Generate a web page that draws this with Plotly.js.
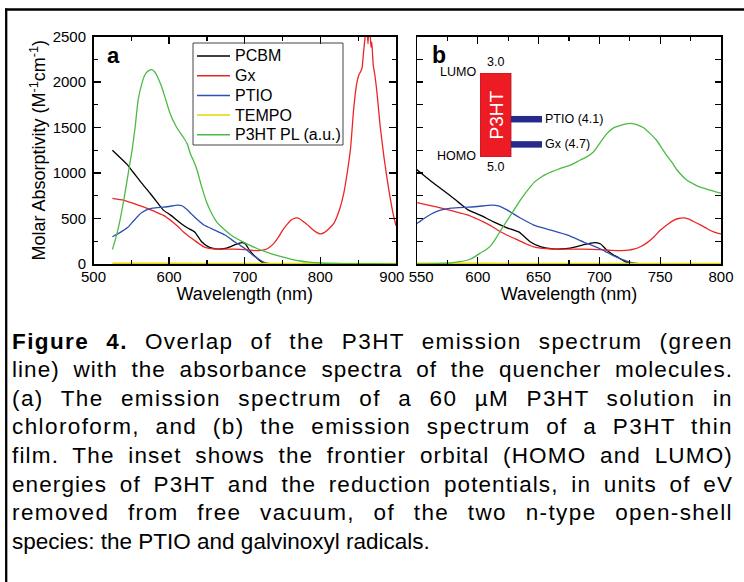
<!DOCTYPE html>
<html><head><meta charset="utf-8">
<script src="https://cdn.plot.ly/plotly-3.0.1.min.js"></script>
<style>html,body{margin:0;padding:0;background:#fff;} #chart{width:744px;height:582px;}</style>
</head><body><div id="chart"></div>
<script>
// ---------------- data ----------------
const seriesNames = ['PCBM', 'Gx', 'PTIO', 'TEMPO', 'P3HT PL (a.u.)'];

const pcbmWl  = [525,535,545,550,557,564,575,584,592,602,613,624,634,643,652,660,668,676,686,693,697,701,706,711,715,720,725,732,760,800,850,900];
const pcbmVal = [1250,1170,1090,1035,960,885,775,680,595,537,462,398,350,245,188,168,165,175,208,230,235,220,155,105,75,35,10,0,0,0,0,0];

const gxWl  = [525,540,551,560,570,580,592,605,612,619,626,633,640,646,653,660,670,687,700,710,718,724,729,734,739,745,750,756,761,765,769,773,777,783,789,795,800,805,811,818,825,831,836,840,844,848,851,853,855,857,859,861,862,863,864,865,866,867,868,869,870,872,875,879,884,888,892,896,900];
const gxVal = [720,700,672,645,614,580,537,460,410,352,305,263,220,188,172,165,163,163,158,150,147,152,165,192,232,300,370,435,480,500,506,495,470,430,385,348,332,345,385,450,590,780,1030,1280,1700,1980,2080,2110,2150,2320,2480,2650,2550,2420,2620,2700,2500,2380,2440,2300,2180,2080,1870,1520,1180,950,740,560,420];

const ptioWl  = [525,535,545,551,558,564,571,578,592,600,611,617,624,630,635,646,660,674,687,694,701,706,711,717,723,728,735,745,800,900];
const ptioVal = [300,345,400,455,520,565,598,614,625,632,647,640,595,545,505,428,373,318,241,205,165,130,95,60,30,12,2,0,0,0];

const tempoWl  = [525,600,700,800,900];
const tempoVal = [8,8,7,6,6];

// P3HT photoluminescence, solution (panel a)
const plSolWl  = [525,530,535,540,545,551,555,559,564,568,573,577,581,585,590,595,601,610,619,624,628,633,637,643,650,656,663,673,685,695,707,718,729,740,751,762,773,785,800,830,870,900];
const plSolVal = [160,300,480,700,950,1250,1500,1800,1985,2080,2125,2135,2110,2050,1950,1820,1660,1500,1390,1320,1215,1120,1030,850,670,560,460,380,300,255,205,165,130,100,75,52,33,20,11,5,3,2];

// P3HT photoluminescence, thin film (panel b)
const plFilmWl  = [550,565,578,585,592,597,602,607,611,615,619,623,627,631,635,639,643,647,652,656,660,668,676,684,690,695,701,706,711,718,725,730,736,742,747,751,755,760,764,768,772,778,783,790,795,800];
const plFilmVal = [0,3,11,25,44,75,120,160,208,285,373,455,537,620,702,775,844,905,954,985,1009,1052,1086,1140,1180,1230,1340,1430,1490,1525,1546,1535,1500,1430,1360,1280,1200,1110,1030,970,920,875,844,815,795,778];

// tick labels
const ticksA = [500, 600, 700, 800, 900];
const ticksB = [550, 600, 650, 700, 750, 800];

// inset: energies in eV below vacuum
const p3htLumo = 3.0;
const p3htHomo = 5.0;
const radicalNames  = ['PTIO', 'Gx'];
const radicalLevels = [4.1, 4.7];

const captionLines = [
  '<b>Figure 4.</b> Overlap of the P3HT emission spectrum (green',
  'line) with the absorbance spectra of the quencher molecules.',
  '(a) The emission spectrum of a 60 µM P3HT solution in',
  'chloroform, and (b) the emission spectrum of a P3HT thin',
  'film. The inset shows the frontier orbital (HOMO and LUMO)',
  'energies of P3HT and the reduction potentials, in units of eV',
  'removed from free vacuum, of the two n-type open-shell',
  'species: the PTIO and galvinoxyl radicals.'
];

// ---------------- styling / layout ----------------
const W = 744, H = 582;
const px = x => x / W;
const py = y => 1 - y / H;
const FONT = 'Arial, "Liberation Sans", Helvetica, sans-serif';
const seriesColors = ['#000000', '#EE2424', '#2E50B4', '#E6D600', '#4DBA44'];
const LW = 1.3;
const NB = '\u00a0';

const absSets = [[pcbmWl, pcbmVal], [gxWl, gxVal], [ptioWl, ptioVal], [tempoWl, tempoVal]];
const traces = [];
function line(x, y, i, xa, ya) {
  return {type: 'scatter', mode: 'lines', x: x, y: y, name: seriesNames[i],
    xaxis: xa, yaxis: ya, showlegend: false, hoverinfo: 'skip',
    line: {color: seriesColors[i], width: LW, shape: 'spline', smoothing: 0.5}};
}
absSets.forEach((s, i) => traces.push(line(s[0], s[1], i, 'x', 'y')));
traces.push(line(plSolWl, plSolVal, 4, 'x', 'y'));
absSets.forEach((s, i) => traces.push(line(s[0], s[1], i, 'x2', 'y2')));
traces.push(line(plFilmWl, plFilmVal, 4, 'x2', 'y2'));

// inset bars
traces.push({type: 'bar', x: [0.5], y: [p3htHomo - p3htLumo], base: [p3htLumo], width: [1],
  xaxis: 'x3', yaxis: 'y3', showlegend: false, hoverinfo: 'skip',
  marker: {color: '#ED1C24', line: {color: '#B0141A', width: 0.8}}});
radicalLevels.forEach(lv => traces.push({type: 'scatter', mode: 'lines', x: [1, 2], y: [lv, lv],
  xaxis: 'x3', yaxis: 'y3', showlegend: false, hoverinfo: 'skip', cliponaxis: false,
  line: {color: '#262A8A', width: 6.5}}));

const axCommon = {showline: true, linecolor: '#000', linewidth: 1.5, mirror: 'allticks',
  ticks: 'inside', ticklen: 7, tickwidth: 1.3, tickcolor: '#000', showgrid: false, zeroline: false,
  tickfont: {family: FONT, size: 15, color: '#000'}};

const yDom = [py(264), py(36.5)];
const layout = {
  width: W, height: H, margin: {l: 0, r: 0, t: 0, b: 0},
  paper_bgcolor: '#fff', plot_bgcolor: '#fff', showlegend: false,
  xaxis: Object.assign({}, axCommon, {domain: [px(93.5), px(396)], range: [500, 900], anchor: 'y',
    tickmode: 'array', tickvals: ticksA, ticklabelstandoff: -2,
    ticktext: ticksA.map((t, i) => i === ticksA.length - 1 ? String(t) + NB + NB : String(t)),
    minor: {dtick: 50, ticklen: 4, tickwidth: 1.3, ticks: 'inside', tickcolor: '#000'},
    title: {text: 'Wavelength (nm)', font: {family: FONT, size: 18, color: '#000'}, standoff: 4}}),
  yaxis: Object.assign({}, axCommon, {domain: yDom, range: [0, 2500], anchor: 'x',
    dtick: 500, ticklabelstandoff: 3,
    minor: {dtick: 250, ticklen: 4, tickwidth: 1.3, ticks: 'inside', tickcolor: '#000'},
    title: {text: 'Molar Absorptivity (M<sup>-1</sup>cm<sup>-1</sup>)', font: {family: FONT, size: 18, color: '#000'}, standoff: 2}}),
  xaxis2: Object.assign({}, axCommon, {domain: [px(417), px(721)], range: [550, 800], anchor: 'y2',
    tickmode: 'array', tickvals: ticksB, ticklabelstandoff: -2,
    ticktext: ticksB.map((t, i) => i === 0 ? NB + NB + String(t) : String(t)),
    minor: {dtick: 25, ticklen: 4, tickwidth: 1.3, ticks: 'inside', tickcolor: '#000'},
    title: {text: 'Wavelength (nm)', font: {family: FONT, size: 18, color: '#000'}, standoff: 4}}),
  yaxis2: Object.assign({}, axCommon, {domain: yDom, range: [0, 2500], anchor: 'x2',
    dtick: 250, ticklen: 6, showticklabels: false}),
  xaxis3: {domain: [px(480), px(542)], range: [0, 2], anchor: 'y3', visible: false, fixedrange: true},
  yaxis3: {domain: [py(157), py(73)], range: [p3htHomo, p3htLumo], anchor: 'x3', visible: false, fixedrange: true},
  annotations: [], shapes: []
};

// outer frame
layout.shapes.push({type: 'line', xref: 'paper', yref: 'paper', x0: px(5), x1: 1, y0: py(9.5), y1: py(9.5), line: {color: '#000', width: 2.3}});
layout.shapes.push({type: 'line', xref: 'paper', yref: 'paper', x0: px(6.2), x1: px(6.2), y0: 0, y1: py(8.5), line: {color: '#000', width: 2.3}});

// panel letters
layout.annotations.push({xref: 'paper', yref: 'paper', x: px(113), y: py(56), xanchor: 'center', yanchor: 'middle',
  text: '<b>a</b>', showarrow: false, font: {family: FONT, size: 22, color: '#000'}});
layout.annotations.push({xref: 'paper', yref: 'paper', x: px(439), y: py(55), xanchor: 'center', yanchor: 'middle',
  text: '<b>b</b>', showarrow: false, font: {family: FONT, size: 23, color: '#000'}});

// legend (panel a)
layout.shapes.push({type: 'rect', xref: 'paper', yref: 'paper', x0: px(193), x1: px(343), y0: py(145), y1: py(43),
  line: {color: '#444', width: 1}, fillcolor: 'rgba(255,255,255,0)'});
seriesNames.forEach((n, i) => {
  const yc = 56 + i * 19.7;
  layout.shapes.push({type: 'line', xref: 'paper', yref: 'paper', x0: px(197), x1: px(230), y0: py(yc), y1: py(yc),
    line: {color: seriesColors[i], width: 1.5}});
  layout.annotations.push({xref: 'paper', yref: 'paper', x: px(233), y: py(yc), xanchor: 'left', yanchor: 'middle',
    text: n, showarrow: false, font: {family: FONT, size: 16, color: '#000'}});
});

// inset labels
const insetFont = {family: FONT, size: 12.5, color: '#000'};
layout.annotations.push({xref: 'x3', yref: 'y3', x: 0.5, y: p3htLumo, yanchor: 'bottom', yshift: 2, text: p3htLumo.toFixed(1), showarrow: false, font: insetFont});
layout.annotations.push({xref: 'x3', yref: 'y3', x: 0.5, y: p3htHomo, yanchor: 'top', yshift: -1, text: p3htHomo.toFixed(1), showarrow: false, font: insetFont});
layout.annotations.push({xref: 'x3', yref: 'y3', x: 0, y: p3htLumo, xanchor: 'right', xshift: -2, yshift: 1, text: 'LUMO', showarrow: false, font: insetFont});
layout.annotations.push({xref: 'x3', yref: 'y3', x: 0, y: p3htHomo, xanchor: 'right', xshift: -2, yshift: 1, text: 'HOMO', showarrow: false, font: insetFont});
layout.annotations.push({xref: 'x3', yref: 'y3', x: 0.5, y: (p3htLumo + p3htHomo) / 2, text: 'P3HT', textangle: -90, showarrow: false,
  font: {family: FONT, size: 19, color: '#fff'}});
radicalNames.forEach((n, i) => layout.annotations.push({xref: 'x3', yref: 'y3', x: 2, y: radicalLevels[i], xanchor: 'left', xshift: 1,
  text: n + ' (' + radicalLevels[i].toFixed(1) + ')', showarrow: false, font: insetFont}));

// caption
const captionStart = layout.annotations.length;
captionLines.forEach((t, i) => layout.annotations.push({xref: 'paper', yref: 'paper', x: px(10), y: py(341 + i * 28.6),
  xanchor: 'left', yanchor: 'middle', align: 'left', text: t, showarrow: false,
  font: {family: FONT, size: 22.5, color: '#000'}}));

Plotly.newPlot('chart', traces, layout, {staticPlot: true, displayModeBar: false}).then(gd => {
  // justify caption lines (all but last) to the right margin
  const right = 733;
  captionLines.forEach((t, i) => {
    if (i === captionLines.length - 1) return;
    const el = gd.querySelector('g.annotation[data-index="' + (captionStart + i) + '"] text.annotation-text');
    if (!el) return;
    const measure = () => {
      const bb = el.getBoundingClientRect();
      return {left: bb.left, width: bb.width};
    };
    let m = measure();
    const txt = el.textContent;
    const nChars = txt.length;
    const spaces = (txt.match(/ /g) || []).length;
    let extra = right - (m.left + m.width);
    if (extra > 0 && nChars > 1) {
      const ls = Math.min(extra * 0.55 / nChars, 1.4);
      el.style.letterSpacing = ls + 'px';
      m = measure();
      extra = right - (m.left + m.width);
    }
    if (spaces > 0) el.style.wordSpacing = (extra / spaces) + 'px';
  });
});
</script>
</body></html>
